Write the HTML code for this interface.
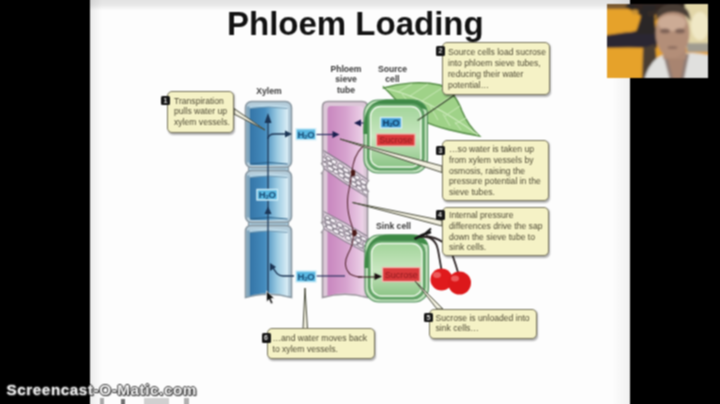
<!DOCTYPE html>
<html><head><meta charset="utf-8">
<style>
html,body{margin:0;padding:0;background:#000;width:720px;height:404px;overflow:hidden;}
#root{position:absolute;left:0;top:0;width:720px;height:404px;filter:url(#softblur);}
body{position:relative;font-family:"Liberation Sans",sans-serif;-webkit-font-smoothing:antialiased;}
#slide{position:absolute;left:90px;top:0;width:540px;height:404px;background:#fdfdfd;}
#topbar{position:absolute;left:90px;top:0;width:540px;height:10px;background:linear-gradient(#e2e2e2,#e8e8e8 50%,#fbfbfb);}
#rshade{position:absolute;left:612px;top:0;width:18px;height:404px;background:linear-gradient(90deg,rgba(0,0,0,0),rgba(0,0,0,0.05));}
#title{position:absolute;left:227px;top:4.6px;font-size:33px;font-weight:bold;color:#111;white-space:nowrap;letter-spacing:0px;}
svg{position:absolute;left:0;top:0;}
.cb{position:absolute;background:#f5f2c6;border:1.8px solid #76735c;border-radius:5px;box-shadow:1px 1.5px 1.5px rgba(0,0,0,0.3);box-sizing:border-box;}
.ct{position:absolute;font-size:8.6px;line-height:10.8px;color:#4e4a34;white-space:nowrap;}
.bd{position:absolute;width:9px;height:9.5px;background:#161616;border-radius:1.5px;color:#ddd;font-size:7px;font-weight:bold;text-align:center;line-height:9.5px;}
.lbl{position:absolute;font-size:8.6px;font-weight:bold;color:#383838;text-align:center;line-height:10.5px;white-space:nowrap;}
#wm{position:absolute;left:6.5px;top:381px;font-size:15.2px;letter-spacing:0.6px;font-weight:bold;color:#f2f2f2;white-space:nowrap;
 text-shadow:1px 0 0 #3a3a3a,-1px 0 0 #3a3a3a,0 1px 0 #3a3a3a,0 -1px 0 #3a3a3a,1px 1px 1px #222;}
#cam{position:absolute;left:607px;top:4px;width:101px;height:74px;overflow:hidden;background:#d9a33a;}
</style></head><body>
<svg width="0" height="0" style="position:absolute"><filter id="softblur" x="0" y="0" width="100%" height="100%" color-interpolation-filters="sRGB"><feConvolveMatrix order="3" kernelMatrix="1 2 1 2 4 2 1 2 1" divisor="16" edgeMode="duplicate"/></filter></svg>
<div id="root">
<div id="slide"></div>
<div id="topbar"></div>
<div id="rshade"></div>
<div style="position:absolute;left:90px;top:0;width:12px;height:404px;background:linear-gradient(90deg,rgba(0,0,0,0.07),rgba(0,0,0,0));"></div>
<div id="title">Phloem Loading</div>

<svg width="720" height="404" viewBox="0 0 720 404">
<defs>
 <linearGradient id="gx" x1="0" x2="1" y1="0" y2="0">
  <stop offset="0" stop-color="#3474a6"/><stop offset="0.4" stop-color="#458cbe"/>
  <stop offset="0.72" stop-color="#9ccbe2"/><stop offset="1" stop-color="#dceef6"/>
 </linearGradient>
 <linearGradient id="gp" x1="0" x2="1" y1="0" y2="0">
  <stop offset="0" stop-color="#c886be"/><stop offset="0.5" stop-color="#d6a2ce"/>
  <stop offset="0.85" stop-color="#e6c4e0"/><stop offset="1" stop-color="#ecd4e8"/>
 </linearGradient>
 <linearGradient id="gc" x1="0" x2="0" y1="0" y2="1">
  <stop offset="0" stop-color="#a2d49a"/><stop offset="0.5" stop-color="#c8e6c0"/><stop offset="1" stop-color="#8cc486"/>
 </linearGradient>
</defs>

<!-- XYLEM -->
<rect x="248.5" y="163" width="40" height="12" fill="#a8cde0" stroke="#8796a0" stroke-width="1.2"/>
<rect x="248.5" y="218" width="40" height="12" fill="#a8cde0" stroke="#8796a0" stroke-width="1.2"/>
<rect x="245.5" y="101.5" width="46" height="66.0" rx="6" fill="#b4ccda" stroke="#8796a0" stroke-width="1.6"/><rect x="249.5" y="106.0" width="38.5" height="59.0" rx="3.5" fill="url(#gx)"/><rect x="246.6" y="106.5" width="3" height="56.0" fill="#7ea4bc"/><path d="M250,164.0 Q268.5,161.0 287.5,164.0" fill="none" stroke="#2a5f86" stroke-width="1"/>
<rect x="245.5" y="170.5" width="46" height="52.0" rx="6" fill="#b4ccda" stroke="#8796a0" stroke-width="1.6"/><rect x="249.5" y="175.0" width="38.5" height="45.0" rx="3.5" fill="url(#gx)"/><rect x="246.6" y="175.5" width="3" height="42.0" fill="#7ea4bc"/><path d="M250,219.0 Q268.5,216.0 287.5,219.0" fill="none" stroke="#2a5f86" stroke-width="1"/>
<path d="M245.5,231.5 Q245.5,225.5 251.5,225.5 L285.5,225.5 Q291.5,225.5 291.5,231.5 L291.5,297.5 Q268.5,291.0 245.5,297.5 Z" fill="#b4ccda" stroke="#8796a0" stroke-width="1.6"/><path d="M249.5,233.5 Q249.5,230.0 253,230.0 L284.5,230.0 Q288,230.0 288,233.5 L288,296.0 Q268.5,290.0 249.5,296.0 Z" fill="url(#gx)"/><rect x="246.6" y="230.5" width="3" height="66.0" fill="#7ea4bc"/>
<path d="M250,106.0 Q268.5,103.0 287.5,106.0 L287.5,108.5 Q268.5,105.5 250,108.5 Z" fill="#c0dcea" opacity="0.85"/><path d="M250,108.5 Q268.5,105.5 287.5,108.5" fill="none" stroke="#6a8ea6" stroke-width="0.8"/><path d="M250,175.0 Q268.5,172.0 287.5,175.0 L287.5,177.5 Q268.5,174.5 250,177.5 Z" fill="#c0dcea" opacity="0.85"/><path d="M250,177.5 Q268.5,174.5 287.5,177.5" fill="none" stroke="#6a8ea6" stroke-width="0.8"/><path d="M250,230.0 Q268.5,227.0 287.5,230.0 L287.5,232.5 Q268.5,229.5 250,232.5 Z" fill="#c0dcea" opacity="0.85"/><path d="M250,232.5 Q268.5,229.5 287.5,232.5" fill="none" stroke="#6a8ea6" stroke-width="0.8"/>
<!-- xylem arrows -->
<g stroke="#1c3656" stroke-width="1.3" fill="none">
 <line x1="268" y1="120" x2="268" y2="294"/>
 <path d="M268,139 Q268,134 275,134 L286,134"/>
 <path d="M272,265 Q276,276 283,276 L294,276"/>
</g>
<g fill="#1c3656">
 <path d="M268,113 L264.5,123 L271.5,123 Z"/>
 <path d="M292,134 L285,130.5 L285,137.5 Z"/>
 <path d="M268,206.5 L264.5,214 L271.5,214 Z"/>
 <path d="M270,263 L270,271 L276,267 Z"/>
</g>

<!-- PHLOEM -->
<path d="M322.5,107 Q322.5,101.5 328,101.5 L362,101.5 Q367.5,101.5 367.5,107 L367.5,297.5 Q345,291 322.5,297.5 Z" fill="#dcc8d8" stroke="#9a949c" stroke-width="1.6"/>
<path d="M327.5,110 Q327.5,106 331,106 L360,106 Q363.5,106 363.5,110 L363.5,296 Q345.5,290 327.5,296 Z" fill="url(#gp)"/>
<!-- sieve plates -->
<clipPath id="tubeclip"><rect x="323.5" y="101" width="43.5" height="197"/></clipPath>
<g clip-path="url(#tubeclip)"><g transform="translate(345.5,174) rotate(34)"><path d="M-32,-7 Q0,-9 32,-7 L32,7 Q0,9 -32,7 Z" fill="#e2d2e0" stroke="#7a7480" stroke-width="1"/><ellipse cx="-30.4" cy="-3.5" rx="3.2" ry="1.8" fill="#f6f0f6" stroke="#6e6874" stroke-width="0.85"/><ellipse cx="-22.8" cy="-3.3" rx="2.8" ry="1.6" fill="#f6f0f6" stroke="#6e6874" stroke-width="0.85"/><ellipse cx="-16.4" cy="-3.6" rx="2.9" ry="2.2" fill="#f6f0f6" stroke="#6e6874" stroke-width="0.85"/><ellipse cx="-8.5" cy="-3.9" rx="3.2" ry="2.0" fill="#f6f0f6" stroke="#6e6874" stroke-width="0.85"/><ellipse cx="-1.8" cy="-3.4" rx="3.6" ry="1.9" fill="#f6f0f6" stroke="#6e6874" stroke-width="0.85"/><ellipse cx="5.3" cy="-3.5" rx="2.8" ry="2.1" fill="#f6f0f6" stroke="#6e6874" stroke-width="0.85"/><ellipse cx="11.7" cy="-3.6" rx="2.7" ry="2.1" fill="#f6f0f6" stroke="#6e6874" stroke-width="0.85"/><ellipse cx="19.4" cy="-3.3" rx="3.6" ry="2.0" fill="#f6f0f6" stroke="#6e6874" stroke-width="0.85"/><ellipse cx="25.8" cy="-3.3" rx="3.5" ry="1.9" fill="#f6f0f6" stroke="#6e6874" stroke-width="0.85"/><ellipse cx="-25.9" cy="-0.0" rx="2.8" ry="1.7" fill="#f6f0f6" stroke="#6e6874" stroke-width="0.85"/><ellipse cx="-18.8" cy="0.0" rx="3.1" ry="2.0" fill="#f6f0f6" stroke="#6e6874" stroke-width="0.85"/><ellipse cx="-12.5" cy="0.3" rx="3.1" ry="1.8" fill="#f6f0f6" stroke="#6e6874" stroke-width="0.85"/><ellipse cx="-5.4" cy="0.5" rx="3.6" ry="2.0" fill="#f6f0f6" stroke="#6e6874" stroke-width="0.85"/><ellipse cx="2.1" cy="-0.1" rx="3.7" ry="2.0" fill="#f6f0f6" stroke="#6e6874" stroke-width="0.85"/><ellipse cx="9.1" cy="0.3" rx="3.7" ry="2.1" fill="#f6f0f6" stroke="#6e6874" stroke-width="0.85"/><ellipse cx="15.8" cy="0.3" rx="2.9" ry="2.1" fill="#f6f0f6" stroke="#6e6874" stroke-width="0.85"/><ellipse cx="22.2" cy="0.6" rx="2.8" ry="2.1" fill="#f6f0f6" stroke="#6e6874" stroke-width="0.85"/><ellipse cx="28.8" cy="-0.1" rx="3.5" ry="1.8" fill="#f6f0f6" stroke="#6e6874" stroke-width="0.85"/><ellipse cx="-30.3" cy="3.4" rx="3.5" ry="2.1" fill="#f6f0f6" stroke="#6e6874" stroke-width="0.85"/><ellipse cx="-22.8" cy="3.7" rx="2.7" ry="2.0" fill="#f6f0f6" stroke="#6e6874" stroke-width="0.85"/><ellipse cx="-15.4" cy="4.2" rx="3.7" ry="1.9" fill="#f6f0f6" stroke="#6e6874" stroke-width="0.85"/><ellipse cx="-9.3" cy="3.4" rx="2.8" ry="2.0" fill="#f6f0f6" stroke="#6e6874" stroke-width="0.85"/><ellipse cx="-2.5" cy="3.5" rx="3.1" ry="2.0" fill="#f6f0f6" stroke="#6e6874" stroke-width="0.85"/><ellipse cx="4.3" cy="4.2" rx="3.6" ry="1.8" fill="#f6f0f6" stroke="#6e6874" stroke-width="0.85"/><ellipse cx="12.6" cy="3.8" rx="3.1" ry="1.9" fill="#f6f0f6" stroke="#6e6874" stroke-width="0.85"/><ellipse cx="19.2" cy="3.9" rx="3.3" ry="1.9" fill="#f6f0f6" stroke="#6e6874" stroke-width="0.85"/><ellipse cx="26.7" cy="4.0" rx="3.2" ry="1.9" fill="#f6f0f6" stroke="#6e6874" stroke-width="0.85"/></g>
<g transform="translate(345.5,232.5) rotate(30)"><path d="M-32,-7 Q0,-9 32,-7 L32,7 Q0,9 -32,7 Z" fill="#e2d2e0" stroke="#7a7480" stroke-width="1"/><ellipse cx="-30.4" cy="-3.6" rx="3.0" ry="2.2" fill="#f6f0f6" stroke="#6e6874" stroke-width="0.85"/><ellipse cx="-22.9" cy="-3.5" rx="2.7" ry="1.8" fill="#f6f0f6" stroke="#6e6874" stroke-width="0.85"/><ellipse cx="-16.8" cy="-4.0" rx="3.3" ry="2.0" fill="#f6f0f6" stroke="#6e6874" stroke-width="0.85"/><ellipse cx="-8.8" cy="-3.7" rx="3.2" ry="2.0" fill="#f6f0f6" stroke="#6e6874" stroke-width="0.85"/><ellipse cx="-1.7" cy="-4.0" rx="3.4" ry="1.6" fill="#f6f0f6" stroke="#6e6874" stroke-width="0.85"/><ellipse cx="5.3" cy="-3.6" rx="3.7" ry="1.8" fill="#f6f0f6" stroke="#6e6874" stroke-width="0.85"/><ellipse cx="12.1" cy="-3.7" rx="3.0" ry="1.8" fill="#f6f0f6" stroke="#6e6874" stroke-width="0.85"/><ellipse cx="18.8" cy="-3.7" rx="3.3" ry="1.8" fill="#f6f0f6" stroke="#6e6874" stroke-width="0.85"/><ellipse cx="26.4" cy="-3.4" rx="2.7" ry="1.9" fill="#f6f0f6" stroke="#6e6874" stroke-width="0.85"/><ellipse cx="-26.8" cy="-0.0" rx="2.9" ry="2.1" fill="#f6f0f6" stroke="#6e6874" stroke-width="0.85"/><ellipse cx="-20.0" cy="-0.1" rx="3.1" ry="2.0" fill="#f6f0f6" stroke="#6e6874" stroke-width="0.85"/><ellipse cx="-12.8" cy="0.2" rx="3.0" ry="2.1" fill="#f6f0f6" stroke="#6e6874" stroke-width="0.85"/><ellipse cx="-4.9" cy="0.3" rx="2.9" ry="1.8" fill="#f6f0f6" stroke="#6e6874" stroke-width="0.85"/><ellipse cx="2.1" cy="-0.1" rx="3.2" ry="1.7" fill="#f6f0f6" stroke="#6e6874" stroke-width="0.85"/><ellipse cx="8.5" cy="0.5" rx="2.9" ry="2.1" fill="#f6f0f6" stroke="#6e6874" stroke-width="0.85"/><ellipse cx="15.0" cy="0.3" rx="3.0" ry="2.1" fill="#f6f0f6" stroke="#6e6874" stroke-width="0.85"/><ellipse cx="23.0" cy="0.0" rx="3.0" ry="1.7" fill="#f6f0f6" stroke="#6e6874" stroke-width="0.85"/><ellipse cx="30.0" cy="0.1" rx="3.0" ry="1.8" fill="#f6f0f6" stroke="#6e6874" stroke-width="0.85"/><ellipse cx="-30.1" cy="3.5" rx="3.1" ry="2.2" fill="#f6f0f6" stroke="#6e6874" stroke-width="0.85"/><ellipse cx="-23.8" cy="4.2" rx="3.6" ry="2.1" fill="#f6f0f6" stroke="#6e6874" stroke-width="0.85"/><ellipse cx="-16.1" cy="3.6" rx="3.7" ry="2.2" fill="#f6f0f6" stroke="#6e6874" stroke-width="0.85"/><ellipse cx="-8.6" cy="3.8" rx="3.5" ry="2.0" fill="#f6f0f6" stroke="#6e6874" stroke-width="0.85"/><ellipse cx="-2.3" cy="3.5" rx="3.0" ry="1.7" fill="#f6f0f6" stroke="#6e6874" stroke-width="0.85"/><ellipse cx="5.1" cy="3.4" rx="3.0" ry="2.1" fill="#f6f0f6" stroke="#6e6874" stroke-width="0.85"/><ellipse cx="12.6" cy="4.1" rx="3.4" ry="2.2" fill="#f6f0f6" stroke="#6e6874" stroke-width="0.85"/><ellipse cx="19.6" cy="4.0" rx="3.3" ry="1.6" fill="#f6f0f6" stroke="#6e6874" stroke-width="0.85"/><ellipse cx="25.5" cy="3.8" rx="3.0" ry="2.0" fill="#f6f0f6" stroke="#6e6874" stroke-width="0.85"/></g></g>
<g fill="#fdfdfd" stroke="#9a949c" stroke-width="1.3">
 <path d="M321,163 Q326.5,168.5 321,174"/><path d="M369,180 Q363.5,186 369,192"/>
 <path d="M321,222 Q326.5,227.5 321,233"/><path d="M369,238 Q363.5,244 369,250"/>
</g>
<!-- flow line -->
<path d="M369,141 Q356,150 353,165 Q351,180 348,195 Q346,210 352,226 Q356,240 348,254 Q342,266 350,274 Q355,277 362,277" fill="none" stroke="#5a2a36" stroke-width="1.1"/>
<ellipse cx="353" cy="173" rx="2.3" ry="3.3" fill="#4a1a18"/>
<ellipse cx="354.5" cy="233" rx="2.3" ry="3.3" fill="#4a1a18"/>
<!-- phloem arrows -->
<g stroke="#2c2f60" stroke-width="1.2" fill="none">
 <line x1="316" y1="134.5" x2="334" y2="134.5"/>
 <line x1="360" y1="123" x2="380" y2="123"/>
 <line x1="316" y1="276" x2="345" y2="276"/>
</g>
<g fill="#1c1f50">
 <path d="M339.5,134.5 L332.5,131 L332.5,138 Z"/>
 <path d="M354,123 L361,119.5 L361,126.5 Z"/>
</g>

<!-- LEAF -->
<g>
 <path d="M383.5,88 C398,83.5 420,80.5 440,85 C452,90 458,100 462,111 C466,121 472,129 479.5,136 C470,134.5 460,132.5 448,129.5 C430,125 414,118 404,108 C396,100 390,93 383.5,87 Z" fill="#9fd288" stroke="#558c46" stroke-width="1.4"/>
 <path d="M386,88.5 Q428,98 478,135" fill="none" stroke="#d6efc6" stroke-width="1.1"/>
 <g stroke="#cdeabb" stroke-width="0.9" fill="none">
  <path d="M398,92 L412,84"/><path d="M410,96 L428,84"/><path d="M422,101 L442,88"/><path d="M434,108 L452,95"/><path d="M445,116 L460,106"/><path d="M455,124 L466,118"/>
  <path d="M402,94 L410,104"/><path d="M416,99 L424,112"/><path d="M430,106 L438,120"/><path d="M443,114 L450,126"/><path d="M455,122 L461,130"/>
 </g>
</g>

<!-- SOURCE CELL -->
<rect x="364" y="100" width="63.5" height="73" rx="14" fill="#bfe0ba" stroke="#4d8c58" stroke-width="1.1"/>
<path d="M363.5,134 C363.5,110 370,99.5 390,99.5 L408,99.5 C418,99.5 424,103 427,110 C412,104 392,104 380,108 C371,112 368,120 367.5,134 Z" fill="#3e8a46"/>
<rect x="367.5" y="103.5" width="56.5" height="66.5" rx="12" fill="#66aa6a" stroke="#4a8854" stroke-width="0.9"/>
<rect x="370.5" y="106.5" width="50.5" height="60.5" rx="10" fill="url(#gc)" stroke="#eef8ea" stroke-width="1.4"/>

<!-- SINK CELL -->
<rect x="365" y="235" width="63.5" height="67" rx="14" fill="#bfe0ba" stroke="#4d8c58" stroke-width="1.1"/>
<path d="M364.5,268 C364.5,246 371,234.5 390,234.5 L410,234.5 C419,234.5 425,238 428,245 C412,239.5 392,239.5 380,243.5 C372,247 368.5,255 368,268 Z" fill="#3e8a46"/>
<rect x="368.5" y="240.5" width="56.5" height="58.5" rx="12" fill="#66aa6a" stroke="#4a8854" stroke-width="0.9"/>
<rect x="371.5" y="243.5" width="50.5" height="52.5" rx="10" fill="url(#gc)" stroke="#eef8ea" stroke-width="1.4"/>

<!-- flow arrow into sink -->
<path d="M358,277 L376,277" stroke="#3a2020" stroke-width="1.1"/>
<path d="M382,276.5 L374.5,273 L374.5,280 Z" fill="#1a1010"/>

<!-- H2O / Sucrose boxes -->
<g font-family="Liberation Sans">
<rect x="296" y="128.8" width="19.8" height="11" fill="#5ab8e2" stroke="#d2eef8" stroke-width="1.4"/><text x="305.9" y="137.8" fill="#1a4f78" font-size="9.6" font-weight="bold" text-anchor="middle" letter-spacing="-0.3">H<tspan font-size="6" dy="1">2</tspan><tspan dy="-1">O</tspan></text>
<rect x="257" y="189.5" width="20.5" height="10.5" fill="#5ab8e2" stroke="#d2eef8" stroke-width="1.4"/><text x="267.25" y="198.0" fill="#1a4f78" font-size="9.6" font-weight="bold" text-anchor="middle" letter-spacing="-0.3">H<tspan font-size="6" dy="1">2</tspan><tspan dy="-1">O</tspan></text>
<rect x="296" y="271" width="20" height="11" fill="#5ab8e2" stroke="#d2eef8" stroke-width="1.4"/><text x="306.0" y="280" fill="#1a4f78" font-size="9.6" font-weight="bold" text-anchor="middle" letter-spacing="-0.3">H<tspan font-size="6" dy="1">2</tspan><tspan dy="-1">O</tspan></text>
<rect x="380.5" y="117.5" width="21" height="10.5" fill="#3f9bd2" stroke="#d2eef8" stroke-width="1.4"/><text x="391.0" y="126.0" fill="#123e68" font-size="9.6" font-weight="bold" text-anchor="middle" letter-spacing="-0.3">H<tspan font-size="6" dy="1">2</tspan><tspan dy="-1">O</tspan></text>
<rect x="376.5" y="134" width="38.5" height="12" fill="#d9393b" stroke="#f2b9b0" stroke-width="1.3"/>
 <text x="395.7" y="143.3" fill="#8e1a1e" font-size="9" text-anchor="middle">Sucrose</text>
 <rect x="382.5" y="267.5" width="37.5" height="14" fill="#d9393b" stroke="#f2b9b0" stroke-width="1.3"/>
 <text x="401.2" y="277.8" fill="#8e1a1e" font-size="9" text-anchor="middle">Sucrose</text>
</g>

<!-- CHERRIES -->
<g>
 <path d="M420,237 Q435,235 438,250 Q440,261 441.5,270" fill="none" stroke="#2a2222" stroke-width="1.8"/>
 <path d="M426,236 Q446,239 452,254 Q456,265 458.5,274" fill="none" stroke="#2a2222" stroke-width="1.8"/>
 <path d="M414.5,239 Q422,234.5 431,232" fill="none" stroke="#161616" stroke-width="2.6"/>
 <path d="M423,235.5 L431,228.5" fill="none" stroke="#161616" stroke-width="1.8"/>
 <circle cx="441.5" cy="279.5" r="11" fill="#e01a1c"/>
 <circle cx="459.5" cy="283" r="11.5" fill="#dc181a"/>
 <ellipse cx="437" cy="275" rx="4" ry="3" fill="#f27070" opacity="0.75"/>
 <ellipse cx="455" cy="278.5" rx="4" ry="3" fill="#f27070" opacity="0.75"/>
</g>

<!-- cursor -->
<path d="M266.5,291 L266.5,302 L269,299.5 L271,304 L273,303 L271,298.5 L274.5,298.5 Z" fill="#111" stroke="#eee" stroke-width="0.8"/>
<!-- POINTERS -->
<g stroke="#464838" stroke-width="1" fill="#f2f0e0">
 <path d="M234,108.5 L265,130 L234,114 Z"/>
 <path d="M442,166 L340,139 L442,172.5 Z"/>
 <path d="M442,220.5 L352.5,202.5 L442,226 Z"/>
 <path d="M303,329 L305,288 L307.5,329 Z"/>
 <path d="M437,309 L415,281 L443,309 Z"/>
</g>
<path d="M456,94 L417.5,120.5" stroke="#3a4a30" stroke-width="1.2"/>
</svg>

<!-- CALLOUTS -->
<div class="cb" style="left:167px;top:90.5px;width:67px;height:42px;"></div>
<div class="bd" style="left:161px;top:95.5px;">1</div>
<div class="ct" style="left:174px;top:95.5px;line-height:10.9px;">Transpiration<br>pulls water up<br>xylem vessels.</div>

<div class="cb" style="left:442px;top:42px;width:108px;height:52.5px;"></div>
<div class="bd" style="left:436px;top:46px;">2</div>
<div class="ct" style="left:448px;top:47px;line-height:10.9px;">Source cells load sucrose<br>into phloem sieve tubes,<br>reducing their water<br>potential…</div>

<div class="cb" style="left:442px;top:140px;width:107px;height:61px;"></div>
<div class="bd" style="left:436px;top:145.5px;">3</div>
<div class="ct" style="left:449px;top:144px;">…so water is taken up<br>from xylem vessels by<br>osmosis, raising the<br>pressure potential in the<br>sieve tubes.</div>

<div class="cb" style="left:442px;top:206.5px;width:107px;height:49px;"></div>
<div class="bd" style="left:435.5px;top:210px;">4</div>
<div class="ct" style="left:449px;top:210px;">Internal pressure<br>differences drive the sap<br>down the sieve tube to<br>sink cells.</div>

<div class="cb" style="left:429px;top:308.5px;width:108px;height:30.5px;"></div>
<div class="bd" style="left:424px;top:312.5px;">5</div>
<div class="ct" style="left:435.5px;top:313px;line-height:10.2px;">Sucrose is unloaded into<br>sink cells…</div>

<div class="cb" style="left:266.5px;top:328px;width:108px;height:30.5px;"></div>
<div class="bd" style="left:261.5px;top:333px;">6</div>
<div class="ct" style="left:272.5px;top:333px;line-height:10.5px;">…and water moves back<br>to xylem vessels.</div>

<div class="lbl" style="left:244px;top:86px;width:50px;">Xylem</div>
<div class="lbl" style="left:321px;top:63.5px;width:50px;line-height:10.7px;">Phloem<br>sieve<br>tube</div>
<div class="lbl" style="left:367.5px;top:63.5px;width:50px;line-height:10.7px;">Source<br>cell</div>
<div class="lbl" style="left:368.5px;top:221px;width:50px;">Sink cell</div>

<div id="cam"><svg width="101" height="74" viewBox="0 0 101 74" style="position:absolute;left:0;top:0">
<defs><filter id="cb" x="-10%" y="-10%" width="120%" height="120%"><feGaussianBlur stdDeviation="1.2"/></filter></defs>
<g filter="url(#cb)">
<rect x="-5" y="-5" width="111" height="84" fill="#e6a22a"/>
<!-- top-left dark orange -->
<rect x="-5" y="-5" width="30" height="10" fill="#7a5a30"/>
<!-- top dark strip -->
<path d="M20,-5 L80,-5 L80,4 Q60,6 40,8 Q30,8 22,5 Z" fill="#302820"/>
<!-- band -->
<path d="M-5,32 Q12,29 24,28 Q34,26 40,25 L50,28 L50,44 Q20,43 -5,44 Z" fill="#2a2830"/>
<!-- trunk & branches -->
<path d="M28,30 L50,30 Q46,16 49,1 L36,1 Q34,16 28,30 Z" fill="#2c2826"/>
<path d="M18,3 Q28,8 36,13 L38,9 Q28,2 22,-1 Z" fill="#2c2826"/>
<path d="M40,8 Q50,6 60,4 L60,8 Q50,10 42,13 Z" fill="#342c26"/>
<ellipse cx="28" cy="8" rx="3.5" ry="2.5" fill="#c89030"/>
<!-- dark between -->
<path d="M36,44 L48,40 L52,80 L35,80 Z" fill="#4a3c32"/>
<!-- right background -->
<rect x="78" y="-2" width="30" height="46" fill="#e2d6a8"/>
<ellipse cx="93" cy="22" rx="9" ry="14" fill="#f0e8c6"/>
<rect x="80" y="39" width="28" height="9" fill="#a09c90"/>
<!-- shirt -->
<path d="M36,80 Q40,62 50,54 Q58,49 66,50 Q76,49 86,49 Q98,50 106,52 L106,80 Z" fill="#e0e0de"/>
<path d="M56,50 L64,80 L76,80 L82,50 Z" fill="#8e7c74"/>
<path d="M60,52 L67,78 L73,78 L78,52 Z" fill="#a8846f"/>
<!-- neck -->
<rect x="56" y="42" width="23" height="13" fill="#ad8a74"/>
<!-- head -->
<ellipse cx="65.5" cy="29" rx="17" ry="25" fill="#b38e78"/>
<ellipse cx="65" cy="19" rx="14" ry="8" fill="#ccab95"/>
<path d="M48.5,17 Q49,0 66,0 Q83,0 83.5,17 Q77,8 66,8 Q55,8 48.5,17 Z" fill="#4a3e36"/>
<ellipse cx="58" cy="27" rx="5" ry="2.5" fill="#7e6256"/>
<ellipse cx="73" cy="27" rx="5" ry="2.5" fill="#7e6256"/>
<ellipse cx="65.5" cy="43.5" rx="5" ry="1.5" fill="#8e6e60"/>
</g></svg></div>
<div style="position:absolute;left:100px;top:398px;width:4px;height:6px;background:#a8a8a8;"></div>
<div style="position:absolute;left:121px;top:398.5px;width:3.5px;height:6px;background:#707070;"></div>
<div style="position:absolute;left:144px;top:398px;width:25px;height:6px;background:#d0d0d0;"></div>
<div style="position:absolute;left:184px;top:398px;width:5px;height:6px;background:#b0b0b0;"></div>
<div id="wm">Screencast-O-Matic.com</div>
</div>
</body></html>
